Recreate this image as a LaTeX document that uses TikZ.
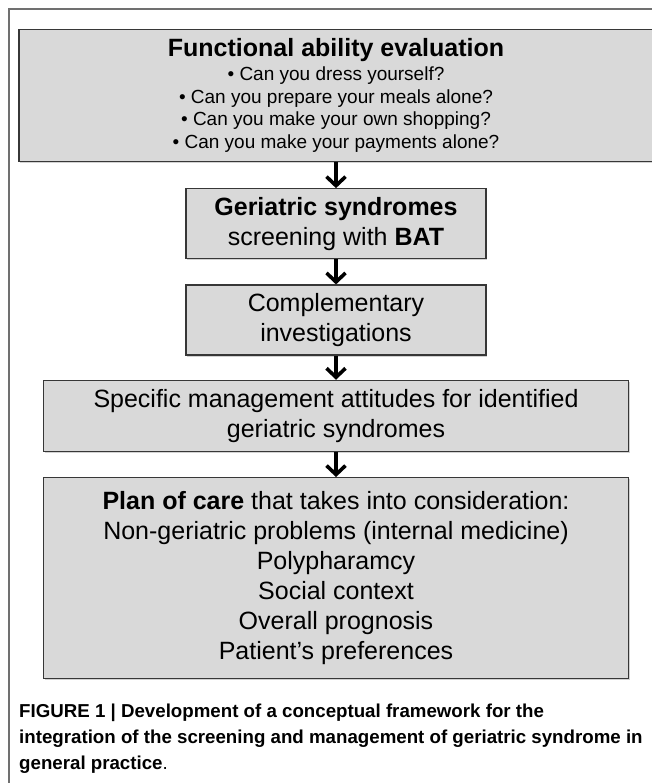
\documentclass[tikz,border=0pt]{standalone}
\usepackage{fontspec}
\setmainfont{Liberation Sans}
\usetikzlibrary{arrows.meta, positioning, shadows}

\definecolor{boxgray}{RGB}{217,217,217}
\definecolor{edgegray}{RGB}{55,55,55}
\definecolor{framegray}{RGB}{112,112,112}

\tikzset{
  stagebox/.style={draw=edgegray, line width=1.3pt, fill=boxgray, align=center,
    inner sep=0pt, font=\fontsize{25}{30}\selectfont,
    drop shadow={shadow xshift=1.2pt, shadow yshift=-1.6pt, opacity=0.35}},
  flow/.style={->, line width=3.6pt},
}

\begin{document}
\begin{tikzpicture}[x=1pt, y=-1pt, >={Straight Barb[length=9pt, width=19pt]},
    node distance=25pt]
  \clip (0,0) rectangle (652,783);
  \fill[white] (0,0) rectangle (652,783);
  \draw[framegray, line width=1.3pt] (9,9) rectangle (663,800);

  % the five stages
  \node[stagebox, minimum width=634pt, minimum height=132pt,
        font=\fontsize{19}{22.7}\selectfont] (ability) at (336,95.5)
    {{\fontsize{25}{25}\selectfont\bfseries Functional ability evaluation}\\[1pt]
     • Can you dress yourself?\\
     • Can you prepare your meals alone?\\
     • Can you make your own shopping?\\
     • Can you make your payments alone?};
  \node[stagebox, minimum width=300pt, minimum height=70pt, below=26pt of ability] (screening)
    {\textbf{Geriatric syndromes}\\ screening with \textbf{BAT}};
  \node[stagebox, minimum width=300pt, minimum height=70pt, below=of screening] (investig)
    {Complementary\\ investigations};
  \node[stagebox, minimum width=585pt, minimum height=71pt, below=24pt of investig] (attitudes)
    {Specific management attitudes for identified\\ geriatric syndromes};
  \node[stagebox, minimum width=585pt, minimum height=201pt, below=of attitudes] (careplan)
    {\textbf{Plan of care} that takes into consideration:\\
     Non-geriatric problems (internal medicine)\\
     Polypharamcy\\
     Social context\\
     Overall prognosis\\
     Patient’s preferences};

  \draw[flow] (ability) -- (screening);
  \draw[flow] (screening) -- (investig);
  \draw[flow] (investig) -- (attitudes);
  \draw[flow] (attitudes) -- (careplan);

  % caption
  \node[anchor=north west, inner sep=0pt, align=left,
        font=\fontsize{18.7}{26}\selectfont\bfseries] (caption) at (19,704)
    {FIGURE 1 | Development of a conceptual framework for the\\
     integration of the screening and management of geriatric syndrome in\\
     general practice{\mdseries .}};
\end{tikzpicture}
\end{document}
